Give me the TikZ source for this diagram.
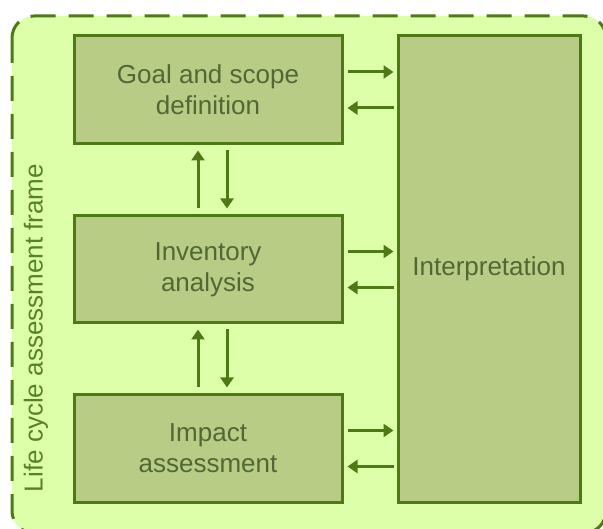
\documentclass[tikz,border=0pt]{standalone}
\usepackage{fontspec}
\setmainfont{Liberation Sans}
\usetikzlibrary{arrows.meta,calc}
\definecolor{bgcol}{RGB}{221,255,170}
\definecolor{boxfill}{RGB}{184,204,134}
\definecolor{linecol}{RGB}{78,122,22}
\definecolor{txtcol}{RGB}{82,104,52}
\definecolor{lblcol}{RGB}{86,130,40}
\tikzset{
  box/.style={draw=linecol, fill=boxfill, line width=3pt, inner sep=0pt,
    align=center, text=txtcol, font=\fontsize{26}{31}\selectfont},
  arr/.style={draw=linecol, line width=3pt, -{Triangle[length=10pt,width=13pt]}},
  frame/.style={draw=linecol, fill=bgcol, line width=3pt, dash pattern=on 25pt off 13pt, rounded corners=22pt}
}
\begin{document}
\begin{tikzpicture}[x=1pt,y=-1pt]
\useasboundingbox (0,0) rectangle (603,529);
\clip (0,0) rectangle (603,529);
\fill[white] (0,0) rectangle (603,529);
\draw[frame] (12,16) rectangle (606,533);
\node[box, minimum width=268pt, minimum height=108pt] (goal) at (208,90) {Goal and scope\\definition};
\node[box, minimum width=268pt, minimum height=107pt] (inv) at (208,269.5) {Inventory\\analysis};
\node[box, minimum width=268pt, minimum height=107pt] (imp) at (208,448.5) {Impact\\assessment};
\node[box, minimum width=182pt, minimum height=466pt] (interp) at (489,269) {Interpretation};
\node[rotate=90, text=lblcol, font=\fontsize{26}{31}\selectfont] (lbl) at (36,328) {Life cycle assessment frame};
% horizontal arrows
\foreach \n in {goal,inv,imp}{
  \draw[arr] ($(\n.east)+(4,-18)$) -- ($(interp.west |- \n.east)+(-3,-18)$);
  \draw[arr] ($(interp.west |- \n.east)+(-3,18)$) -- ($(\n.east)+(4,18)$);
}
% vertical arrows
\draw[arr] ($(inv.north)+(-10,-6)$) -- ($(goal.south)+(-10,5)$);
\draw[arr] ($(goal.south)+(19,5)$) -- ($(inv.north)+(19,-6)$);
\draw[arr] ($(imp.north)+(-10,-6)$) -- ($(inv.south)+(-10,5)$);
\draw[arr] ($(inv.south)+(19,5)$) -- ($(imp.north)+(19,-6)$);
\end{tikzpicture}
\end{document}
